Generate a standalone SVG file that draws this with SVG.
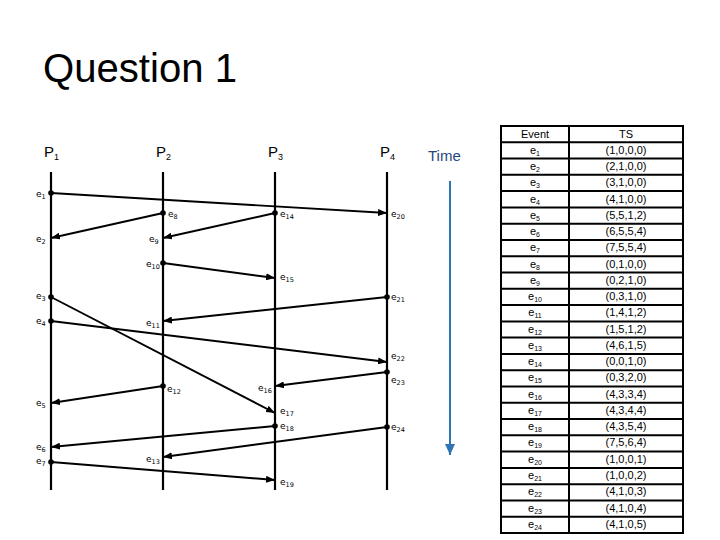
<svg xmlns="http://www.w3.org/2000/svg" width="720" height="540" viewBox="0 0 720 540">
<style>
.title{font-family:"Liberation Sans",Arial,sans-serif;font-size:40px;fill:#000}
.plab{font-family:"Liberation Sans",Arial,sans-serif;font-size:15px;fill:#000}
.sub{font-size:9px}
.time{font-family:"Liberation Sans",Arial,sans-serif;font-size:15px;fill:#1F497D}
.proc{stroke:#000;stroke-width:2.2;fill:none}
.msg{stroke:#000;stroke-width:1.9;fill:none}
.ev{font-family:"DejaVu Sans",sans-serif;font-size:9px;fill:#000}
.es{font-size:6.5px}
.tb{font-family:"Liberation Sans",Arial,sans-serif;font-size:11px;fill:#000;text-anchor:middle}
.tbs{font-size:7px}
.grid{stroke:#000;stroke-width:2;fill:none}
</style>
<defs>
<marker id="arr" viewBox="0 0 9 7" refX="9" refY="3.5" markerWidth="9" markerHeight="7" markerUnits="userSpaceOnUse" orient="auto">
<path d="M0,0 L9,3.5 L0,7 z" fill="#000"/>
</marker>
<marker id="dot" viewBox="0 0 6 6" refX="3" refY="3" markerWidth="6" markerHeight="6" markerUnits="userSpaceOnUse">
<circle cx="3" cy="3" r="2.8" fill="#000"/>
</marker>
<marker id="tarr" viewBox="0 0 10 11" refX="5" refY="11" markerWidth="10" markerHeight="11" markerUnits="userSpaceOnUse" orient="0">
<path d="M0,0 L10,0 L5,11 z" fill="#2E75B6"/>
</marker>
</defs>

<text class="title" x="43" y="82" textLength="194" lengthAdjust="spacingAndGlyphs">Question 1</text>

<g id="P1"><text class="plab" x="44" y="157">P<tspan class="sub" dy="3">1</tspan></text><line class="proc" x1="51" y1="172" x2="51" y2="490"/></g>
<g id="P2"><text class="plab" x="156" y="157">P<tspan class="sub" dy="3">2</tspan></text><line class="proc" x1="163" y1="172" x2="163" y2="490"/></g>
<g id="P3"><text class="plab" x="268" y="157">P<tspan class="sub" dy="3">3</tspan></text><line class="proc" x1="275" y1="172" x2="275" y2="490"/></g>
<g id="P4"><text class="plab" x="380" y="157">P<tspan class="sub" dy="3">4</tspan></text><line class="proc" x1="387" y1="172" x2="387" y2="490"/></g>

<g id="time">
<text class="time" x="428" y="161">Time</text>
<line x1="450" y1="181" x2="450" y2="455" stroke="#2E75B6" stroke-width="2" marker-end="url(#tarr)"/>
</g>

<g id="connectors">
<line class="msg" x1="51" y1="193" x2="387" y2="213" marker-start="url(#dot)" marker-end="url(#arr)"/>
<line class="msg" x1="163" y1="213" x2="51" y2="238" marker-start="url(#dot)" marker-end="url(#arr)"/>
<line class="msg" x1="275" y1="213" x2="163" y2="238" marker-start="url(#dot)" marker-end="url(#arr)"/>
<line class="msg" x1="163" y1="263" x2="275" y2="278" marker-start="url(#dot)" marker-end="url(#arr)"/>
<line class="msg" x1="387" y1="297" x2="163" y2="321" marker-start="url(#dot)" marker-end="url(#arr)"/>
<line class="msg" x1="51" y1="297" x2="275" y2="413" marker-start="url(#dot)" marker-end="url(#arr)"/>
<line class="msg" x1="51" y1="321" x2="387" y2="362" marker-start="url(#dot)" marker-end="url(#arr)"/>
<line class="msg" x1="387" y1="372" x2="275" y2="386" marker-start="url(#dot)" marker-end="url(#arr)"/>
<line class="msg" x1="163" y1="386" x2="51" y2="403" marker-start="url(#dot)" marker-end="url(#arr)"/>
<line class="msg" x1="275" y1="426" x2="51" y2="447" marker-start="url(#dot)" marker-end="url(#arr)"/>
<line class="msg" x1="387" y1="427" x2="163" y2="457" marker-start="url(#dot)" marker-end="url(#arr)"/>
<line class="msg" x1="51" y1="462" x2="275" y2="480" marker-start="url(#dot)" marker-end="url(#arr)"/>
</g>

<g id="event-labels">
<text class="ev" x="36" y="197">e<tspan class="es" dy="2">1</tspan></text>
<text class="ev" x="36" y="242">e<tspan class="es" dy="2">2</tspan></text>
<text class="ev" x="36" y="299">e<tspan class="es" dy="2">3</tspan></text>
<text class="ev" x="36" y="324">e<tspan class="es" dy="2">4</tspan></text>
<text class="ev" x="36" y="406">e<tspan class="es" dy="2">5</tspan></text>
<text class="ev" x="36" y="450">e<tspan class="es" dy="2">6</tspan></text>
<text class="ev" x="36" y="464">e<tspan class="es" dy="2">7</tspan></text>
<text class="ev" x="168" y="217">e<tspan class="es" dy="2">8</tspan></text>
<text class="ev" x="149" y="242">e<tspan class="es" dy="2">9</tspan></text>
<text class="ev" x="146" y="267">e<tspan class="es" dy="2">10</tspan></text>
<text class="ev" x="146" y="326">e<tspan class="es" dy="2">11</tspan></text>
<text class="ev" x="167" y="392">e<tspan class="es" dy="2">12</tspan></text>
<text class="ev" x="146" y="462">e<tspan class="es" dy="2">13</tspan></text>
<text class="ev" x="280" y="217">e<tspan class="es" dy="2">14</tspan></text>
<text class="ev" x="280" y="280">e<tspan class="es" dy="2">15</tspan></text>
<text class="ev" x="258" y="391">e<tspan class="es" dy="2">16</tspan></text>
<text class="ev" x="280" y="414">e<tspan class="es" dy="2">17</tspan></text>
<text class="ev" x="280" y="429">e<tspan class="es" dy="2">18</tspan></text>
<text class="ev" x="280" y="485">e<tspan class="es" dy="2">19</tspan></text>
<text class="ev" x="391" y="217">e<tspan class="es" dy="2">20</tspan></text>
<text class="ev" x="391" y="300">e<tspan class="es" dy="2">21</tspan></text>
<text class="ev" x="391" y="359">e<tspan class="es" dy="2">22</tspan></text>
<text class="ev" x="391" y="383">e<tspan class="es" dy="2">23</tspan></text>
<text class="ev" x="391" y="430">e<tspan class="es" dy="2">24</tspan></text>
</g>

<g id="table">
<rect class="grid" x="501" y="126" width="182" height="407"/>
<line class="grid" x1="569" y1="126" x2="569" y2="533"/>
<path class="grid" d="M501,142.3H683M501,158.6H683M501,174.8H683M501,191.1H683M501,207.4H683M501,223.7H683M501,240H683M501,256.2H683M501,272.5H683M501,288.8H683M501,305.1H683M501,321.4H683M501,337.6H683M501,353.9H683M501,370.2H683M501,386.5H683M501,402.8H683M501,419H683M501,435.3H683M501,451.6H683M501,467.9H683M501,484.2H683M501,500.4H683M501,516.7H683"/>
<text class="tb" x="535" y="138">Event</text><text class="tb" x="626" y="138">TS</text>
<text class="tb" x="535" y="154">e<tspan class="tbs" dy="2">1</tspan></text><text class="tb" x="626" y="154">(1,0,0,0)</text>
<text class="tb" x="535" y="170">e<tspan class="tbs" dy="2">2</tspan></text><text class="tb" x="626" y="170">(2,1,0,0)</text>
<text class="tb" x="535" y="186">e<tspan class="tbs" dy="2">3</tspan></text><text class="tb" x="626" y="186">(3,1,0,0)</text>
<text class="tb" x="535" y="203">e<tspan class="tbs" dy="2">4</tspan></text><text class="tb" x="626" y="203">(4,1,0,0)</text>
<text class="tb" x="535" y="219">e<tspan class="tbs" dy="2">5</tspan></text><text class="tb" x="626" y="219">(5,5,1,2)</text>
<text class="tb" x="535" y="235">e<tspan class="tbs" dy="2">6</tspan></text><text class="tb" x="626" y="235">(6,5,5,4)</text>
<text class="tb" x="535" y="251">e<tspan class="tbs" dy="2">7</tspan></text><text class="tb" x="626" y="251">(7,5,5,4)</text>
<text class="tb" x="535" y="268">e<tspan class="tbs" dy="2">8</tspan></text><text class="tb" x="626" y="268">(0,1,0,0)</text>
<text class="tb" x="535" y="284">e<tspan class="tbs" dy="2">9</tspan></text><text class="tb" x="626" y="284">(0,2,1,0)</text>
<text class="tb" x="535" y="300">e<tspan class="tbs" dy="2">10</tspan></text><text class="tb" x="626" y="300">(0,3,1,0)</text>
<text class="tb" x="535" y="316">e<tspan class="tbs" dy="2">11</tspan></text><text class="tb" x="626" y="316">(1,4,1,2)</text>
<text class="tb" x="535" y="333">e<tspan class="tbs" dy="2">12</tspan></text><text class="tb" x="626" y="333">(1,5,1,2)</text>
<text class="tb" x="535" y="349">e<tspan class="tbs" dy="2">13</tspan></text><text class="tb" x="626" y="349">(4,6,1,5)</text>
<text class="tb" x="535" y="365">e<tspan class="tbs" dy="2">14</tspan></text><text class="tb" x="626" y="365">(0,0,1,0)</text>
<text class="tb" x="535" y="381">e<tspan class="tbs" dy="2">15</tspan></text><text class="tb" x="626" y="381">(0,3,2,0)</text>
<text class="tb" x="535" y="398">e<tspan class="tbs" dy="2">16</tspan></text><text class="tb" x="626" y="398">(4,3,3,4)</text>
<text class="tb" x="535" y="414">e<tspan class="tbs" dy="2">17</tspan></text><text class="tb" x="626" y="414">(4,3,4,4)</text>
<text class="tb" x="535" y="430">e<tspan class="tbs" dy="2">18</tspan></text><text class="tb" x="626" y="430">(4,3,5,4)</text>
<text class="tb" x="535" y="446">e<tspan class="tbs" dy="2">19</tspan></text><text class="tb" x="626" y="446">(7,5,6,4)</text>
<text class="tb" x="535" y="463">e<tspan class="tbs" dy="2">20</tspan></text><text class="tb" x="626" y="463">(1,0,0,1)</text>
<text class="tb" x="535" y="479">e<tspan class="tbs" dy="2">21</tspan></text><text class="tb" x="626" y="479">(1,0,0,2)</text>
<text class="tb" x="535" y="495">e<tspan class="tbs" dy="2">22</tspan></text><text class="tb" x="626" y="495">(4,1,0,3)</text>
<text class="tb" x="535" y="512">e<tspan class="tbs" dy="2">23</tspan></text><text class="tb" x="626" y="512">(4,1,0,4)</text>
<text class="tb" x="535" y="528">e<tspan class="tbs" dy="2">24</tspan></text><text class="tb" x="626" y="528">(4,1,0,5)</text>
</g>
</svg>
